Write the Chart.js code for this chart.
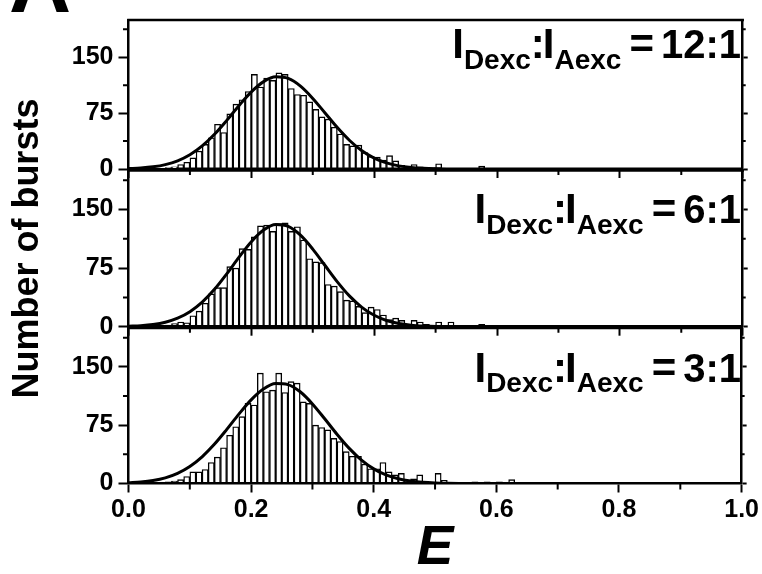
<!DOCTYPE html>
<html><head><meta charset="utf-8">
<script src="https://cdn.jsdelivr.net/npm/chart.js@4.4.1/dist/chart.umd.min.js"></script>
<style>
html,body{margin:0;padding:0;background:#fff;}
#wrap{position:relative;width:762px;height:574px;overflow:hidden;background:#fff;}
canvas{position:absolute;left:0;top:0;}
</style></head><body>
<div id="wrap">
<canvas id="c1" width="762" height="574"></canvas>
<canvas id="c2" width="762" height="574"></canvas>
<canvas id="c3" width="762" height="574"></canvas>
</div>
<script>
// ---- data ----
const binWidth = 0.01;
const binCenters = Array.from({length: 100}, (_, i) => Math.round((i + 0.5) * binWidth * 1000) / 1000);

const counts12 = [0,0,0,0,1,1,2,3,6,9,
 15,24,33,42,60,49,74,87,93,104,
 127,110,122,119,129,127,108,100,99,90,
 80,70,67,56,47,33,31,32,22,17,
 16,12,18,11,5,4,6,3,2,2,
 7,1,1,1,0,1,0,4,0,0,
 0,0,0,0,0,0,1,0,0,0,
 0,0,0,0,0,0,0,0,0,0,
 0,0,0,0,0,0,0,0,0,0,
 0,0,0,0,0,0,0,0,0,0];
const counts6 = [0,0,0,0,1,1,2,4,6,5,
 14,20,30,42,50,50,77,75,100,99,
 115,129,130,122,132,133,122,128,111,87,
 83,82,54,52,45,34,33,26,18,25,
 22,15,9,11,8,3,8,6,3,2,
 6,1,6,1,0,0,0,3,0,0,
 0,0,0,0,0,0,0,0,0,0,
 0,0,0,0,0,0,0,0,0,0,
 0,0,0,0,0,0,0,0,0,0,
 0,0,0,0,0,0,0,0,0,0];
const counts3 = [0,0,0,1,1,1,2,3,5,9,
 15,15,18,27,34,46,62,73,86,103,
 101,142,118,120,142,117,131,129,105,103,
 75,72,69,58,54,41,35,35,25,19,
 19,27,15,11,13,4,6,11,2,1,
 13,4,1,0,1,0,2,0,2,0,
 2,0,5,0,0,0,0,0,0,0,
 0,0,0,0,0,0,0,0,0,0,
 0,0,0,0,0,0,0,0,0,0,
 0,0,0,0,0,0,0,0,0,0];

const fitE = [0,0.02,0.04,0.06,0.08,0.1,0.12,0.14,0.16,0.18,
 0.2,0.22,0.24,0.26,0.28,0.3,0.32,0.34,0.36,0.38,
 0.4,0.42,0.44,0.46,0.48,0.5,0.52,0.54,0.56,0.58,
 0.6,0.62,0.64,0.66,0.68,0.7,0.72,0.74,0.76,0.78,
 0.8,0.82,0.84,0.86,0.88,0.9,0.92,0.94,0.96,0.98,1.0];
const fit12 = [0.60,1.38,2.96,5.92,11.03,19.14,30.92,46.54,65.24,85.18,
 103.57,117.30,123.72,121.54,111.21,94.76,75.21,55.59,38.27,24.54,
 14.65,8.15,4.22,2.04,0.92,0.38,0.15,0.05,0.02,0,
 0,0,0,0,0,0,0,0,0,0,0,0,0,0,0,0,0,0,0,0,0];
const fit6 = [0.55,1.29,2.82,5.76,10.91,19.21,31.45,47.87,67.73,89.07,
 108.88,123.73,130.70,128.34,117.14,99.38,78.38,57.46,39.16,24.81,
 14.61,7.99,4.07,1.92,0.85,0.35,0.13,0.05,0.02,0,
 0,0,0,0,0,0,0,0,0,0,0,0,0,0,0,0,0,0,0,0,0];
const fit3 = [0.86,1.87,3.81,7.28,13.04,21.84,34.27,50.34,69.25,89.20,
 107.58,121.50,128.48,127.22,117.96,102.40,83.25,63.37,45.17,30.14,
 18.84,11.03,6.04,3.10,1.49,0.67,0.28,0.11,0.04,0.01,
 0,0,0,0,0,0,0,0,0,0,0,0,0,0,0,0,0,0,0,0,0];

const xMajorTicks = [0, 0.2, 0.4, 0.6, 0.8, 1.0];
const xMinorTicks = [0.1, 0.3, 0.5, 0.7, 0.9];
const yMajorTicks = [0, 75, 150];
const yMinorTicks = [37.5, 112.5, 187.5];
const ratioLabels = ['12:1', '6:1', '3:1'];

// ---- layout / style ----
const FONT = '"Liberation Sans", Arial, Helvetica, sans-serif';
const W = 762, H = 574;
const AREA_LEFT = 128.5, AREA_RIGHT = 742.7;
const panels = [
  {id: 'c1', counts: counts12, fit: fit12, ratio: ratioLabels[0], top: 14, bottom: 169, labelY: 58.3, last: false, yTitle: false, letter: true},
  {id: 'c2', counts: counts6, fit: fit6, ratio: ratioLabels[1], top: 170.5, bottom: 326.7, labelY: 223.3, last: false, yTitle: true, letter: false},
  {id: 'c3', counts: counts3, fit: fit3, ratio: ratioLabels[2], top: 328, bottom: 483.5, labelY: 381.7, last: true, yTitle: false, letter: false}
];
const LABEL_RIGHT = 741;

const framePlugin = {
  id: 'frame',
  afterDraw(chart) {
    const {ctx, chartArea: a, scales} = chart;
    const x = scales.x, y = scales.y;
    ctx.save();
    ctx.strokeStyle = '#000';
    ctx.lineWidth = 2.5;
    ctx.beginPath();
    ctx.moveTo(a.left - 1.25, a.top);
    ctx.lineTo(a.right + 1.25, a.top);
    ctx.stroke();
    ctx.lineWidth = 2;
    ctx.beginPath();
    xMinorTicks.forEach(v => { const px = x.getPixelForValue(v); ctx.moveTo(px, a.bottom); ctx.lineTo(px, a.bottom + 6); });
    yMinorTicks.forEach(v => {
      const py = y.getPixelForValue(v);
      ctx.moveTo(a.left, py); ctx.lineTo(a.left - 5.5, py);
      ctx.moveTo(a.right, py); ctx.lineTo(a.right + 3, py);
    });
    ctx.stroke();
    ctx.restore();
  }
};

function drawRatio(ctx, right, y, ratio) {
  const big = 'bold 42px ' + FONT, small = 'bold 28px ' + FONT, num = 'bold 40px ' + FONT;
  const segs = [['I', big, 0, 0], ['Dexc', small, 10.5, 0], [':', big, 0, 0], ['I', big, 0, -2],
                ['Aexc', small, 10.5, 0], ['=', big, 0, 8], [ratio, num, 0, 7]];
  ctx.textBaseline = 'alphabetic';
  ctx.textAlign = 'left';
  ctx.fillStyle = '#000';
  let total = 0;
  for (const [t, f, dy, gap] of segs) { ctx.font = f; total += gap + ctx.measureText(t).width; }
  let x = right - total;
  for (const [t, f, dy, gap] of segs) {
    x += gap;
    ctx.font = f;
    ctx.fillText(t, x, y + dy);
    x += ctx.measureText(t).width;
  }
}

function makeChart(p) {
  const textPlugin = {
    id: 'panelText',
    afterDraw(chart) {
      const ctx = chart.ctx;
      ctx.save();
      drawRatio(ctx, LABEL_RIGHT, p.labelY, p.ratio);
      if (p.letter) {
        ctx.font = 'bold 86px ' + FONT;
        ctx.textBaseline = 'alphabetic';
        ctx.fillStyle = '#000';
        ctx.fillText('A', 9, 12);
      }
      ctx.restore();
    }
  };
  return new Chart(document.getElementById(p.id), {
    type: 'bar',
    data: {
      datasets: [
        {type: 'line', data: fitE.map((e, k) => ({x: e, y: p.fit[k]})), xAxisID: 'x', yAxisID: 'y',
         borderColor: '#000', borderWidth: 3, pointRadius: 0, cubicInterpolationMode: 'monotone', fill: false, order: 0},
        {type: 'bar', data: binCenters.map((e, k) => ({x: e, y: p.counts[k]})), xAxisID: 'x', yAxisID: 'y',
         backgroundColor: '#fff', borderColor: '#000', borderWidth: 1.4, borderSkipped: false,
         barPercentage: 1, categoryPercentage: 1, order: 1}
      ]
    },
    options: {
      responsive: false, animation: false, devicePixelRatio: 1,
      layout: {padding: {left: 0, right: W - AREA_RIGHT, top: p.top, bottom: 0}},
      plugins: {legend: {display: false}, tooltip: {enabled: false}},
      scales: {
        x: {
          type: 'linear', position: 'bottom', min: 0, max: 1, offset: false, z: 1,
          afterBuildTicks: s => { s.ticks = xMajorTicks.map(v => ({value: v})); },
          afterFit: s => { s.height = H - p.bottom; },
          grid: {display: true, drawOnChartArea: false, drawTicks: true, tickLength: 9, tickWidth: 2, tickColor: '#000', offset: false, z: 1},
          border: {display: true, color: '#000', width: 2.5, z: 1},
          ticks: {display: p.last, autoSkip: false, maxRotation: 0, minRotation: 0, padding: 3, color: '#000',
                  font: {family: FONT, size: 25, weight: 'bold'}, callback: v => Number(v).toFixed(1)},
          title: {display: p.last, text: 'E', color: '#000',
                  font: {family: FONT, size: 55, weight: 'bold', style: 'italic', lineHeight: 1}, padding: {top: 0, bottom: -2}}
        },
        y: {
          type: 'linear', position: 'left', min: 0, max: 200, z: 1,
          afterBuildTicks: s => { s.ticks = yMajorTicks.map(v => ({value: v})); },
          afterFit: s => { s.width = AREA_LEFT; },
          grid: {display: true, drawOnChartArea: false, drawTicks: true, tickLength: 10, tickWidth: 2, tickColor: '#000', z: 1},
          border: {display: true, color: '#000', width: 2.5, z: 1},
          ticks: {padding: 5, color: '#000', font: {family: FONT, size: 25, weight: 'bold'}, callback: v => String(v)},
          title: {display: p.yTitle, text: 'Number of bursts', color: '#000',
                  font: {family: FONT, size: 36, weight: 'bold', lineHeight: 1}, padding: {top: 10, bottom: 0}}
        },
        yR: {
          type: 'linear', position: 'right', min: 0, max: 200, z: 1,
          afterBuildTicks: s => { s.ticks = yMajorTicks.map(v => ({value: v})); },
          afterFit: s => { s.width = 0; },
          grid: {display: true, drawOnChartArea: false, drawTicks: true, tickLength: 5, tickWidth: 2, tickColor: '#000', z: 1},
          border: {display: true, color: '#000', width: 2.5, z: 1},
          ticks: {display: false}
        }
      }
    },
    plugins: [framePlugin, textPlugin]
  });
}

panels.forEach(makeChart);
</script>
</body></html>
